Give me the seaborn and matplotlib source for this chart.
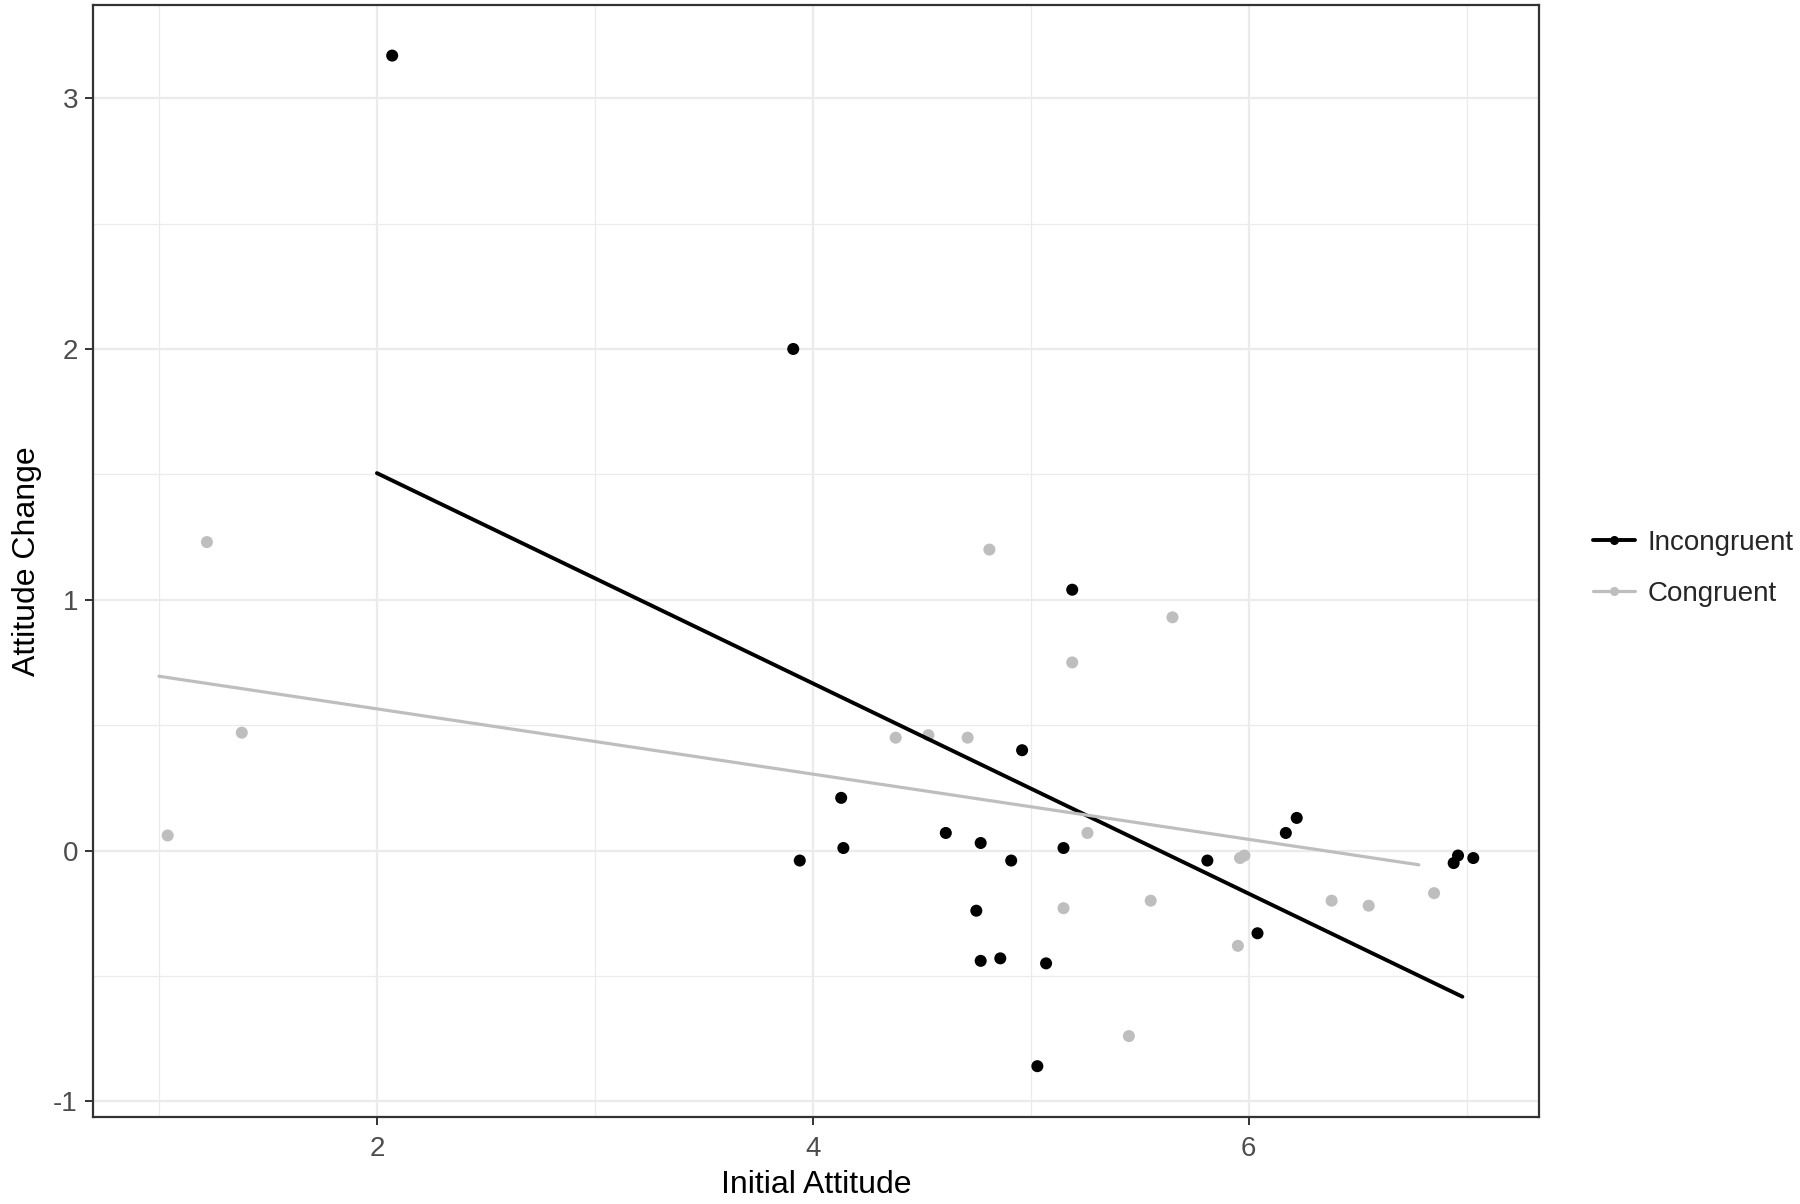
import numpy as np
import pandas as pd
import matplotlib
matplotlib.use('Agg')
import matplotlib.pyplot as plt
from matplotlib.lines import Line2D
from matplotlib.ticker import MultipleLocator
import seaborn as sns


# Incongruent participants (black)
incong_x = [2.07, 3.91, 5.19, 4.96, 4.13, 4.61, 4.77, 4.14, 3.94, 5.15, 4.91, 4.75,
            4.77, 4.86, 5.07, 5.03, 5.81, 6.17, 6.22, 6.04, 6.96, 6.94, 7.03]
incong_y = [3.17, 2.00, 1.04, 0.40, 0.21, 0.07, 0.03, 0.01, -0.04, 0.01, -0.04, -0.24,
            -0.44, -0.43, -0.45, -0.86, -0.04, 0.07, 0.13, -0.33, -0.02, -0.05, -0.03]

# Congruent participants (grey)
cong_x = [1.38, 1.04, 1.22, 4.81, 5.65, 5.19, 4.38, 4.53, 4.71, 5.26, 5.15, 5.55,
          5.45, 5.95, 5.96, 5.98, 6.38, 6.55, 6.85]
cong_y = [0.47, 0.06, 1.23, 1.20, 0.93, 0.75, 0.45, 0.46, 0.45, 0.07, -0.23, -0.20,
          -0.74, -0.38, -0.03, -0.02, -0.20, -0.22, -0.17]

# fitted lines
incong_fit_x = [2.00, 6.98]
incong_fit_y = [1.505, -0.583]
cong_fit_x = [1.00, 6.78]
cong_fit_y = [0.695, -0.057]

conditions = ['Incongruent', 'Congruent']
palette = {'Incongruent': '#000000', 'Congruent': '#BEBEBE'}

points = pd.DataFrame({
    'initial': incong_x + cong_x,
    'change': incong_y + cong_y,
    'condition': ['Incongruent'] * len(incong_x) + ['Congruent'] * len(cong_x),
})
fits = pd.DataFrame({
    'initial': incong_fit_x + cong_fit_x,
    'change': incong_fit_y + cong_fit_y,
    'condition': ['Incongruent'] * 2 + ['Congruent'] * 2,
})

sns.set_style('white')
plt.rcParams['font.family'] = ['Liberation Sans', 'DejaVu Sans']
plt.rcParams['axes.unicode_minus'] = False

fig, ax = plt.subplots(figsize=(18, 12.04), dpi=100)
fig.subplots_adjust(left=0.0518, right=0.855, top=0.9958, bottom=0.0725)

sns.scatterplot(data=points, x='initial', y='change', hue='condition',
                hue_order=conditions, palette=palette, s=75, linewidth=0,
                legend=False, ax=ax, zorder=3)
sns.lineplot(data=fits[fits.condition == 'Incongruent'], x='initial', y='change',
             color=palette['Incongruent'], linewidth=2.8, ax=ax, zorder=4)
sns.lineplot(data=fits[fits.condition == 'Congruent'], x='initial', y='change',
             color=palette['Congruent'], linewidth=2.3, ax=ax, zorder=4)

ax.margins(0.05)

# grid like theme_bw
ax.xaxis.set_major_locator(MultipleLocator(2))
ax.xaxis.set_minor_locator(MultipleLocator(1))
ax.yaxis.set_major_locator(MultipleLocator(1))
ax.yaxis.set_minor_locator(MultipleLocator(0.5))
ax.grid(which='major', color='#EBEBEB', linewidth=1.6, zorder=0)
ax.grid(which='minor', color='#EBEBEB', linewidth=0.9, zorder=0)
ax.set_axisbelow(True)

for sp in ax.spines.values():
    sp.set_visible(True)
    sp.set_color('#333333')
    sp.set_linewidth(1.6)

ax.tick_params(which='major', length=6, width=1.4, color='#333333',
               labelsize=20, labelcolor='#4D4D4D', bottom=True, left=True)
ax.tick_params(axis='x', which='major', pad=8)
ax.tick_params(axis='y', which='major', pad=5)
ax.tick_params(which='minor', length=0)

ax.set_xlabel('Initial Attitude', fontsize=23, color='black', labelpad=6)
ax.set_ylabel('Attitude Change', fontsize=23, color='black', labelpad=8)

handles = [
    Line2D([], [], color=palette[c], linewidth=2.8 if c == 'Incongruent' else 2.3,
           marker='o', markersize=6.5, markeredgewidth=0)
    for c in conditions
]
fig.legend(handles, conditions, loc='center left', bbox_to_anchor=(0.885, 0.528),
           frameon=False, fontsize=20, handlelength=1.5, handletextpad=0.47,
           labelspacing=0.9, borderpad=0, borderaxespad=0)

fig.savefig('out.png', dpi=100)
